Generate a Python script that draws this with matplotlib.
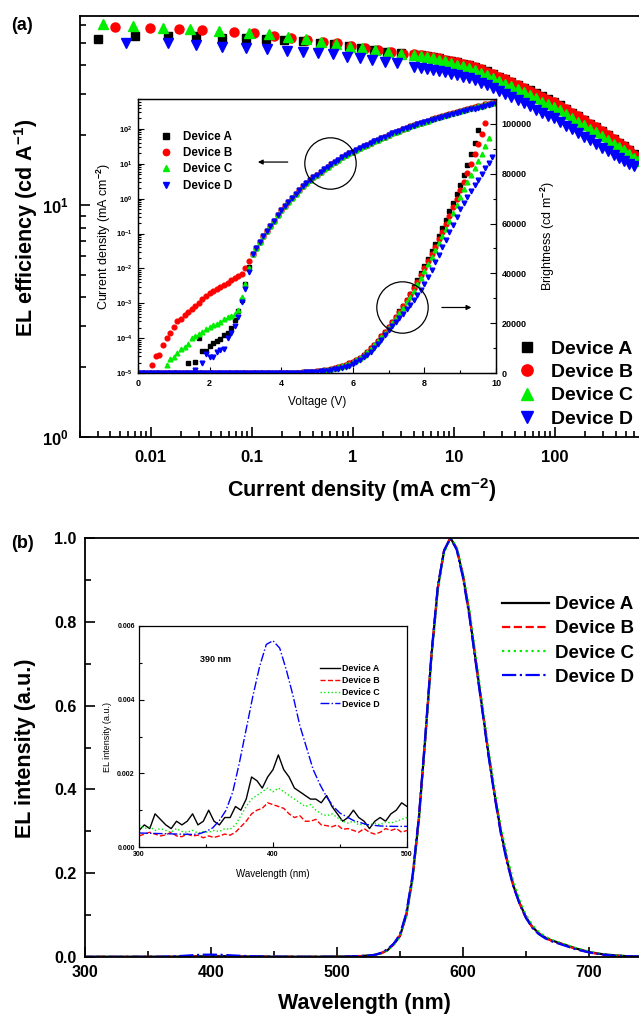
import numpy as np
import matplotlib
matplotlib.use("Agg")
import matplotlib.pyplot as plt
from matplotlib.ticker import FixedLocator, NullFormatter, FuncFormatter

plt.rcParams['font.family'] = ['Liberation Sans', 'DejaVu Sans']
plt.rcParams['font.weight'] = 'bold'
plt.rcParams['mathtext.fontset'] = 'custom'
plt.rcParams['mathtext.rm'] = 'Liberation Sans:bold'
plt.rcParams['mathtext.it'] = 'Liberation Sans:bold'
plt.rcParams['mathtext.bf'] = 'Liberation Sans:bold'
plt.rcParams['axes.linewidth'] = 1.3

devices = ['Device A', 'Device B', 'Device C', 'Device D']
colors = ['#000000', '#ff0000', '#00ee00', '#0000ff']
markers = ['s', 'o', '^', 'v']

# ---------------- (a) EL efficiency vs current density ----------------
# low current part, log10(J) and efficiency, per device
logj_low_a = [-2.52, -2.15, -1.83, -1.55, -1.29, -1.06, -0.86, -0.68, -0.49, -0.32, -0.19, -0.04, 0.08, 0.21, 0.34, 0.48]
eff_low_a = [52.0, 53.5, 53.5, 53.5, 52.5, 52.5, 52.0, 51.4, 50.9, 49.9, 49.4, 48.4, 47.5, 46.5, 45.6, 45.2]
logj_low_b = [-2.35, -2.01, -1.72, -1.49, -1.18, -0.98, -0.78, -0.61, -0.45, -0.29, -0.16, -0.02, 0.12, 0.25, 0.38, 0.50]
eff_low_b = [58.5, 58.0, 57.4, 56.8, 55.7, 55.1, 53.5, 52.5, 51.4, 50.4, 49.9, 48.4, 47.3, 46.4, 45.6, 45.0]
logj_low_c = [-2.47, -2.17, -1.88, -1.61, -1.32, -1.03, -0.83, -0.64, -0.46, -0.31, -0.17, -0.03, 0.09, 0.22, 0.35, 0.48]
eff_low_c = [60.3, 59.1, 58.0, 57.4, 56.2, 55.1, 54.6, 53.0, 52.0, 50.6, 49.4, 48.0, 47.5, 46.4, 45.5, 45.0]
logj_low_d = [-2.24, -1.83, -1.55, -1.29, -1.06, -0.85, -0.65, -0.49, -0.34, -0.20, -0.06, 0.07, 0.19, 0.32, 0.44]
eff_low_d = [49.9, 49.9, 48.9, 48.0, 47.5, 47.0, 46.1, 45.6, 45.2, 44.7, 43.4, 43.0, 42.2, 41.3, 40.9]

# high current part (shared current grid, log10 J)
logj_high = [0.61, 0.67, 0.73, 0.79, 0.85, 0.91, 0.97, 1.03, 1.09, 1.15, 1.21, 1.27, 1.33, 1.39, 1.45,
             1.51, 1.57, 1.63, 1.69, 1.75, 1.81, 1.87, 1.93, 1.99, 2.05, 2.11, 2.17, 2.23, 2.29, 2.35,
             2.41, 2.47, 2.53, 2.58, 2.63, 2.68, 2.73, 2.78, 2.82]
eff_high_a = [44.5, 44.2, 43.8, 43.4, 42.9, 42.4, 41.8, 41.2, 40.6, 40.1, 39.4, 38.5, 37.7, 36.7, 35.8,
              34.9, 34.0, 33.0, 32.1, 31.2, 30.3, 29.4, 28.6, 27.8, 26.9, 25.9, 25.0, 24.1, 23.2, 22.4,
              21.6, 20.8, 20.0, 19.3, 18.6, 17.9, 17.3, 16.6, 16.1]
eff_high_b = [44.6, 44.2, 43.8, 43.4, 42.9, 42.4, 41.8, 41.2, 40.6, 40.0, 39.3, 38.5, 37.6, 36.7, 35.8,
              34.9, 33.9, 33.0, 32.1, 31.1, 30.2, 29.3, 28.5, 27.7, 26.8, 25.9, 25.0, 24.1, 23.2, 22.4,
              21.6, 20.8, 20.0, 19.3, 18.6, 17.9, 17.2, 16.5, 16.0]
eff_high_c = [44.3, 43.9, 43.4, 42.9, 42.3, 41.7, 41.0, 40.3, 39.6, 38.9, 38.1, 37.2, 36.3, 35.3, 34.4,
              33.4, 32.5, 31.5, 30.6, 29.7, 28.8, 27.9, 27.2, 26.4, 25.6, 24.6, 23.8, 22.9, 22.1, 21.3,
              20.6, 19.8, 19.1, 18.4, 17.8, 17.2, 16.6, 16.0, 15.5]
eff_high_d = [39.5, 39.1, 38.7, 38.3, 37.8, 37.3, 36.8, 36.2, 35.7, 35.2, 34.5, 33.7, 32.9, 32.0, 31.1,
              30.2, 29.3, 28.4, 27.5, 26.6, 25.8, 25.0, 24.3, 23.7, 22.9, 22.0, 21.2, 20.4, 19.7, 19.0,
              18.3, 17.7, 17.1, 16.5, 16.0, 15.5, 15.1, 14.8]

# ---------------- (a) inset: J-V and L-V ----------------
# log10 J (mA cm-2) at low voltage, per device: voltages and values
v_low_a = [1.4, 1.6, 1.7, 1.8, 1.9, 2.0, 2.1, 2.2, 2.3, 2.4, 2.5, 2.6, 2.7, 2.8, 2.9, 3.0, 3.1]
lj_low_a = [-4.71, -4.69, -4.00, -4.38, -4.36, -4.22, -4.15, -4.07, -4.03, -3.92, -3.85, -3.70, -3.48, -3.21, -2.92, -2.45, -1.95]
v_low_b = [0.4, 0.5, 0.6, 0.7, 0.8, 0.9, 1.0, 1.1, 1.2, 1.3, 1.4, 1.5, 1.6, 1.7, 1.8, 1.9, 2.0,
           2.1, 2.2, 2.3, 2.4, 2.5, 2.6, 2.7, 2.8, 2.9, 3.0, 3.1]
lj_low_b = [-4.78, -4.51, -4.47, -4.21, -4.00, -3.85, -3.69, -3.51, -3.45, -3.35, -3.26, -3.16, -3.07,
            -2.98, -2.88, -2.80, -2.72, -2.66, -2.60, -2.54, -2.49, -2.41, -2.33, -2.28, -2.22, -2.15, -2.00, -1.80]
v_low_c = [0.8, 0.9, 1.0, 1.1, 1.2, 1.3, 1.4, 1.5, 1.6, 1.7, 1.8, 1.9, 2.0, 2.1, 2.2, 2.3, 2.4, 2.5,
           2.6, 2.7, 2.8, 2.9, 3.0, 3.1]
lj_low_c = [-4.78, -4.60, -4.54, -4.42, -4.30, -4.26, -4.16, -4.00, -3.95, -3.88, -3.83, -3.75, -3.68,
            -3.63, -3.59, -3.53, -3.46, -3.40, -3.36, -3.30, -3.20, -2.83, -2.45, -2.00]
v_low_d = [1.6, 1.8, 1.9, 2.0, 2.1, 2.2, 2.3, 2.4, 2.5, 2.6, 2.7, 2.8, 2.9, 3.0, 3.1]
lj_low_d = [-4.92, -4.71, -4.45, -4.54, -4.55, -4.40, -4.33, -4.30, -4.00, -3.85, -3.65, -3.40, -2.97, -2.60, -2.10]

# common J-V branch above 3.2 V
v_high = [3.2, 3.3, 3.4, 3.5, 3.6, 3.7, 3.8, 3.9, 4.0, 4.1, 4.2, 4.3, 4.4, 4.5, 4.6, 4.7, 4.8, 4.9,
          5.0, 5.1, 5.2, 5.3, 5.4, 5.5, 5.6, 5.7, 5.8, 5.9, 6.0, 6.1, 6.2, 6.3, 6.4, 6.5, 6.6, 6.7,
          6.8, 6.9, 7.0, 7.1, 7.2, 7.3, 7.4, 7.5, 7.6, 7.7, 7.8, 7.9, 8.0, 8.1, 8.2, 8.3, 8.4, 8.5,
          8.6, 8.7, 8.8, 8.9, 9.0, 9.1, 9.2, 9.3, 9.4, 9.5, 9.6, 9.7, 9.8, 9.9, 10.0]
lj_high = [-1.60, -1.42, -1.24, -1.08, -0.92, -0.78, -0.63, -0.48, -0.34, -0.21, -0.09, 0.03, 0.14,
           0.25, 0.35, 0.44, 0.53, 0.61, 0.69, 0.77, 0.85, 0.92, 0.99, 1.06, 1.12, 1.18, 1.24, 1.30,
           1.35, 1.40, 1.45, 1.50, 1.55, 1.60, 1.65, 1.69, 1.74, 1.78, 1.83, 1.87, 1.91, 1.95, 1.99,
           2.03, 2.07, 2.10, 2.14, 2.18, 2.21, 2.24, 2.28, 2.31, 2.34, 2.37, 2.40, 2.43, 2.46, 2.49,
           2.52, 2.54, 2.57, 2.60, 2.62, 2.65, 2.67, 2.70, 2.72, 2.75, 2.77]
lj_high_d_shift = -0.05  # device D sits slightly lower at high bias

# brightness (cd m-2) vs voltage, sweep from 0 V in 0.1 V steps
volt = [round(0.1 * k, 1) for k in range(101)]
lum_off = [0.0] * 40  # 0.0 - 3.9 V : no emission
lum_a = lum_off + [0, 20, 50, 80, 120, 170, 240, 320, 420, 540, 680, 850, 1050, 1280, 1550, 1900,
                   2300, 2750, 3250, 3850, 4500, 5300, 6200, 7300, 8500, 9900, 11400, 13000, 14700,
                   16500, 18400, 20400, 22500, 24700, 27000, 29400, 31900, 34500, 37200, 40000,
                   42900, 45800, 48800, 51900, 55000, 58200, 61500, 64900, 68300, 71800, 75400,
                   79300, 83400, 87800, 92500, 97500]
lum_b = lum_off + [0, 20, 50, 80, 120, 170, 240, 320, 420, 540, 680, 850, 1050, 1280, 1550, 1900,
                   2300, 2750, 3250, 3850, 4500, 5300, 6200, 7300, 8500, 9900, 11400, 13000, 14700,
                   16500, 18400, 20300, 22400, 24600, 26800, 29200, 31600, 34100, 36700, 39400,
                   42100, 44900, 47800, 50700, 53700, 56800, 60000, 63200, 66500, 69900, 73300,
                   76800, 80400, 84100, 87900, 91800, 96000, 100500]
lum_c = lum_off + [0, 20, 45, 75, 115, 165, 230, 310, 410, 525, 660, 825, 1020, 1240, 1500, 1840,
                   2230, 2670, 3150, 3730, 4400, 5150, 6050, 7100, 8300, 9650, 11100, 12700, 14300,
                   16100, 18000, 19900, 21900, 24000, 26200, 28400, 30700, 33100, 35600, 38200,
                   40900, 43600, 46400, 49200, 52100, 55000, 58000, 61100, 64200, 67400, 70600,
                   73700, 76600, 79500, 82300, 85100, 87900, 91000, 94500]
lum_d = lum_off + [0, 10, 30, 50, 80, 120, 170, 230, 300, 390, 500, 630, 790, 970, 1180, 1420,
                   1700, 2050, 2500, 3000, 3600, 4400, 5300, 6300, 7400, 8600, 10000, 11600, 13400,
                   15300, 17400, 18900, 20400, 22000, 23700, 25500, 27400, 29400, 31400, 33500,
                   35600, 38500, 41500, 44500, 47500, 50500, 53500, 56600, 59600, 62700, 65800,
                   68200, 70600, 73000, 75300, 77500, 79800, 82100, 84400, 86600]

# ---------------- (b) EL spectra ----------------
wl_uv = [300, 304, 308, 312, 316, 320, 324, 328, 332, 336, 340, 344, 348, 352, 356, 360, 364, 368,
         372, 376, 380, 384, 388, 392, 396, 400, 404, 408, 412, 416, 420, 424, 428, 432, 436, 440,
         444, 448, 452, 456, 460, 464, 468, 472, 476, 480, 484, 488, 492, 496, 500]
uv_a = [0.00045, 0.0006, 0.0005, 0.0009, 0.00075, 0.0006, 0.0005, 0.0007, 0.0006, 0.0007, 0.0009,
        0.0006, 0.0007, 0.0010, 0.0007, 0.0006, 0.0008, 0.0008, 0.0011, 0.0010, 0.0013, 0.0019,
        0.0018, 0.0016, 0.0019, 0.0021, 0.0025, 0.0021, 0.0019, 0.0016, 0.0015, 0.0014, 0.0013,
        0.0013, 0.0012, 0.0014, 0.0011, 0.0009, 0.0007, 0.0008, 0.0010, 0.0008, 0.0007, 0.0005,
        0.0007, 0.0008, 0.0007, 0.0009, 0.0010, 0.0012, 0.0011]
uv_b = [0.0003, 0.00035, 0.0004, 0.00035, 0.0003, 0.00033, 0.0004, 0.0003, 0.00028, 0.00035, 0.0003,
        0.00032, 0.00025, 0.0003, 0.00026, 0.0003, 0.00035, 0.00032, 0.0004, 0.00055, 0.0007, 0.0009,
        0.0010, 0.00105, 0.0012, 0.00115, 0.0011, 0.00105, 0.0009, 0.0008, 0.00085, 0.0007, 0.0007,
        0.00075, 0.0006, 0.00058, 0.00055, 0.0006, 0.00048, 0.0005, 0.00045, 0.0004, 0.0005, 0.0004,
        0.00035, 0.0004, 0.0005, 0.00045, 0.0005, 0.0004, 0.00045]
uv_c = [0.0006, 0.0005, 0.00055, 0.00045, 0.0005, 0.00045, 0.0004, 0.0005, 0.00042, 0.0004, 0.00045,
        0.00038, 0.00042, 0.0004, 0.00045, 0.00042, 0.0005, 0.00048, 0.0006, 0.00085, 0.0011, 0.0013,
        0.0014, 0.0015, 0.0016, 0.0015, 0.0016, 0.0015, 0.0014, 0.0013, 0.0012, 0.0011, 0.00115,
        0.0010, 0.0009, 0.00085, 0.0009, 0.0008, 0.0007, 0.00065, 0.0007, 0.0006, 0.00062, 0.0006,
        0.00065, 0.0006, 0.00068, 0.00065, 0.0007, 0.00075, 0.0008]
wl_uv_d = [300, 310, 320, 330, 340, 345, 350, 355, 360, 365, 370, 375, 380, 385, 390, 395, 400, 405,
           410, 415, 420, 425, 430, 435, 440, 445, 450, 460, 470, 480, 490, 500]
uv_d = [0.00038, 0.00037, 0.00036, 0.00035, 0.00034, 0.00036, 0.00042, 0.00052, 0.00072, 0.0010,
        0.0015, 0.0023, 0.0032, 0.0041, 0.0049, 0.0055, 0.0056, 0.0054, 0.0048, 0.0041, 0.0033,
        0.0027, 0.0021, 0.0017, 0.00136, 0.0011, 0.00092, 0.00072, 0.00061, 0.00057, 0.00056, 0.00056]

wl_vis = [510, 520, 530, 535, 540, 545, 550, 555, 560, 565, 570, 575, 580, 585, 590, 595, 600, 605,
          610, 615, 620, 625, 630, 635, 640, 645, 650, 655, 660, 665, 670, 675, 680, 685, 690, 700,
          710, 720, 730, 740, 760, 800]
vis_a = [0.0015, 0.0025, 0.005, 0.009, 0.016, 0.03, 0.05, 0.10, 0.19, 0.33, 0.52, 0.72, 0.88, 0.97,
         1.0, 0.975, 0.91, 0.82, 0.71, 0.60, 0.49, 0.39, 0.30, 0.23, 0.17, 0.128, 0.095, 0.072, 0.057,
         0.047, 0.040, 0.035, 0.030, 0.025, 0.020, 0.012, 0.007, 0.004, 0.002, 0.001, 0.0, 0.0]
vis_b = [0.0012, 0.0022, 0.005, 0.009, 0.017, 0.031, 0.052, 0.10, 0.19, 0.33, 0.52, 0.72, 0.88, 0.97,
         1.0, 0.975, 0.91, 0.82, 0.71, 0.60, 0.49, 0.39, 0.30, 0.23, 0.17, 0.127, 0.094, 0.071, 0.056,
         0.046, 0.039, 0.034, 0.029, 0.024, 0.019, 0.011, 0.006, 0.003, 0.002, 0.001, 0.0, 0.0]
vis_c = [0.0014, 0.0024, 0.005, 0.009, 0.016, 0.029, 0.049, 0.098, 0.185, 0.325, 0.515, 0.715, 0.875,
         0.965, 1.0, 0.98, 0.915, 0.83, 0.72, 0.61, 0.50, 0.40, 0.31, 0.24, 0.18, 0.134, 0.10, 0.076,
         0.06, 0.049, 0.041, 0.036, 0.031, 0.026, 0.021, 0.013, 0.007, 0.004, 0.002, 0.001, 0.0, 0.0]
vis_d = [0.0013, 0.0023, 0.005, 0.01, 0.018, 0.032, 0.054, 0.105, 0.195, 0.335, 0.525, 0.725, 0.885,
         0.97, 1.0, 0.972, 0.905, 0.815, 0.705, 0.595, 0.485, 0.385, 0.295, 0.225, 0.168, 0.126,
         0.093, 0.07, 0.055, 0.045, 0.038, 0.033, 0.028, 0.023, 0.018, 0.011, 0.006, 0.003, 0.002,
         0.001, 0.0, 0.0]

# ================= drawing =================
W, H = 639, 1019
fig = plt.figure(figsize=(W / 100, H / 100), dpi=100)


def px_axes(left, top, right, bottom):
    return fig.add_axes([left / W, 1 - bottom / H, (right - left) / W, (bottom - top) / H])


def bold_pow(v, pos):
    return r'$10^{%d}$' % int(round(np.log10(v)))


# ---- panel (a)
ax1 = px_axes(80, 16, 656, 437)
ax1.set_xscale('log')
ax1.set_yscale('log')
low_sets = [(logj_low_a, eff_low_a, eff_high_a), (logj_low_b, eff_low_b, eff_high_b),
            (logj_low_c, eff_low_c, eff_high_c), (logj_low_d, eff_low_d, eff_high_d)]
for (lj, ef, efh), c, m, name in zip(low_sets, colors, markers, devices):
    j = np.power(10.0, np.array(lj + logj_high[:len(efh)]))
    e = np.array(ef + efh)
    ax1.plot(j, e, m, color=c, ms=6.5 if m != 's' else 5.8, mec=c, ls='none', label=name)
ax1.set_xlim(0.002, 1000)
ax1.set_ylim(1, 65.3)
ax1.xaxis.set_major_locator(FixedLocator([0.01, 0.1, 1, 10, 100]))
ax1.xaxis.set_major_formatter(FuncFormatter(lambda v, p: '%g' % v))
ax1.xaxis.set_minor_locator(FixedLocator([k * 10.0 ** d for d in range(-3, 3) for k in range(2, 10)]))
ax1.xaxis.set_minor_formatter(NullFormatter())
ax1.yaxis.set_major_locator(FixedLocator([1, 10]))
ax1.yaxis.set_major_formatter(FuncFormatter(bold_pow))
ax1.yaxis.set_minor_locator(FixedLocator([k * 10.0 ** d for d in range(0, 2) for k in range(2, 10)]))
ax1.yaxis.set_minor_formatter(NullFormatter())
ax1.tick_params(which='both', direction='in', width=1.2, labelsize=12)
ax1.tick_params(which='major', length=7, pad=8)
ax1.tick_params(which='minor', length=4)
ax1.tick_params(axis='x', which='major', pad=9)
leg1 = ax1.legend(loc='upper left', bbox_to_anchor=(517 / W, 1 - 340 / H), bbox_transform=fig.transFigure,
                  frameon=False, fontsize=14, handlelength=1.0, handletextpad=0.75, labelspacing=0.3,
                  borderpad=0, borderaxespad=0, markerscale=1.25)
fig.text(22 / W, 1 - 26 / H, '(a)', fontsize=13, ha='center', va='center')
fig.text(26 / W, 1 - 228 / H, r'EL efficiency (cd A$^{-1}$)', rotation=90, fontsize=15.5,
         ha='center', va='center')
fig.text(362 / W, 1 - 490 / H, r'Current density (mA cm$^{-2}$)', fontsize=15.5, ha='center', va='center')

# ---- inset of (a)
ax2 = px_axes(138, 99, 496, 373)
ax2.set_yscale('log')
jv_sets = [(v_low_a, lj_low_a, 0.0), (v_low_b, lj_low_b, 0.0), (v_low_c, lj_low_c, 0.0),
           (v_low_d, lj_low_d, lj_high_d_shift)]
for (vl, ljl, sh), c, m, name in zip(jv_sets, colors, markers, devices):
    lj_tail = [x + sh * max(0.0, (v - 7.0) / 3.0) for v, x in zip(v_high, lj_high)]
    vv = np.array(vl + v_high)
    jj = np.power(10.0, np.array(ljl + lj_tail))
    ax2.plot(vv, jj, m, color=c, mec=c, ms=3.4 if m != 's' else 3.0, ls='none', label=name)
ax2.set_xlim(0, 10)
ax2.set_ylim(1e-5, 7.2e2)
ax2.xaxis.set_major_locator(FixedLocator([0, 2, 4, 6, 8, 10]))
ax2.xaxis.set_minor_locator(FixedLocator([1, 3, 5, 7, 9]))
ax2.yaxis.set_major_locator(FixedLocator([10.0 ** k for k in range(-5, 3)]))
ax2.yaxis.set_major_formatter(FuncFormatter(bold_pow))
ax2.yaxis.set_minor_locator(FixedLocator([k * 10.0 ** d for d in range(-5, 3) for k in range(2, 10)]))
ax2.yaxis.set_minor_formatter(NullFormatter())
ax2.tick_params(which='both', direction='in', width=0.8, labelsize=6.5, top=False, right=False)
ax2.tick_params(which='major', length=4, pad=4)
ax2.tick_params(which='minor', length=2)
ax2.tick_params(axis='y', labelsize=5.5)
for s in ax2.spines.values():
    s.set_linewidth(0.9)
ax2.set_xlabel('Voltage (V)', fontsize=8.5, labelpad=6)
ax2.set_ylabel(r'Current density (mA cm$^{-2}$)', fontsize=9, labelpad=2)

ax2r = ax2.twinx()
lum_sets = [lum_a, lum_b, lum_c, lum_d]
for lum, c, m in zip(lum_sets, colors, markers):
    ax2r.plot(volt[:len(lum)], lum, m, color=c, mec=c, ms=3.4 if m != 's' else 3.0, ls='none')
ax2r.set_ylim(0, 110000)
ax2r.yaxis.set_major_locator(FixedLocator([0, 20000, 40000, 60000, 80000, 100000]))
ax2r.yaxis.set_minor_locator(FixedLocator([10000, 30000, 50000, 70000, 90000]))
ax2r.tick_params(which='both', direction='in', width=0.8, labelsize=6.5)
ax2r.tick_params(which='major', length=4, pad=4)
ax2r.tick_params(which='minor', length=2)
ax2r.set_ylabel(r'Brightness (cd m$^{-2}$)', fontsize=9, labelpad=5)
for s in ax2r.spines.values():
    s.set_linewidth(0.9)

ax2.legend(loc='upper left', bbox_to_anchor=(161 / W, 1 - 131 / H), bbox_transform=fig.transFigure,
           frameon=False, fontsize=8.4, handlelength=0.8, handletextpad=1.1, labelspacing=0.36,
           borderpad=0, borderaxespad=0, markerscale=1.35)

# circles and arrows marking the axis each curve belongs to
ax2.plot([5.36], [10.5], 'o', ms=37, mfc='none', mec='k', mew=0.9)
ax2.annotate('', xy=(3.27, 11.2), xytext=(4.26, 11.2),
             arrowprops=dict(arrowstyle='-|>', color='k', lw=0.9, mutation_scale=7))
ax2r.plot([7.37], [26300], 'o', ms=37, mfc='none', mec='k', mew=0.9)
ax2r.annotate('', xy=(9.39, 26300), xytext=(8.41, 26300),
              arrowprops=dict(arrowstyle='-|>', color='k', lw=0.9, mutation_scale=7))

# ---- panel (b)
ax3 = px_axes(85, 538, 715, 957)
styles = ['-', '--', ':', '-.']
spec_sets = [(wl_uv, uv_a, vis_a), (wl_uv, uv_b, vis_b), (wl_uv, uv_c, vis_c), (wl_uv_d, uv_d, vis_d)]
for (wu, su, sv), c, ls, name in zip(spec_sets, colors, styles, devices):
    ax3.plot(wu + wl_vis, su + sv, ls, color=c, lw=1.6, label=name)
ax3.set_xlim(300, 800)
ax3.set_ylim(0, 1.0)
ax3.xaxis.set_major_locator(FixedLocator([300, 400, 500, 600, 700]))
ax3.xaxis.set_minor_locator(FixedLocator([350, 450, 550, 650, 750]))
ax3.yaxis.set_major_locator(FixedLocator([0.0, 0.2, 0.4, 0.6, 0.8, 1.0]))
ax3.yaxis.set_minor_locator(FixedLocator([0.1, 0.3, 0.5, 0.7, 0.9]))
ax3.yaxis.set_major_formatter(FuncFormatter(lambda v, p: '%.1f' % v))
ax3.tick_params(which='both', direction='in', width=1.2, labelsize=11.5)
ax3.tick_params(which='major', length=7, pad=6)
ax3.tick_params(which='minor', length=4)
ax3.legend(loc='upper left', bbox_to_anchor=(502 / W, 1 - 596 / H), bbox_transform=fig.transFigure,
           frameon=False, fontsize=13.5, handlelength=2.5, handletextpad=0.35, labelspacing=0.38,
           borderpad=0, borderaxespad=0)
fig.text(22 / W, 1 - 544 / H, '(b)', fontsize=13, ha='center', va='center')
fig.text(26 / W, 1 - 748 / H, 'EL intensity (a.u.)', rotation=90, fontsize=15.5, ha='center', va='center')
fig.text(364 / W, 1 - 1004 / H, 'Wavelength (nm)', fontsize=15.5, ha='center', va='center')

# ---- inset of (b)
ax4 = px_axes(139, 626, 407, 847)
for (wu, su, sv), c, ls, name in zip(spec_sets, colors, styles, devices):
    ax4.plot(wu, su, ls, color=c, lw=1.0, label=name)
ax4.set_xlim(300, 500)
ax4.set_ylim(0, 0.006)
ax4.xaxis.set_major_locator(FixedLocator([300, 400, 500]))
ax4.xaxis.set_minor_locator(FixedLocator([350, 450]))
ax4.yaxis.set_major_locator(FixedLocator([0.0, 0.002, 0.004, 0.006]))
ax4.yaxis.set_minor_locator(FixedLocator([0.001, 0.003, 0.005]))
ax4.yaxis.set_major_formatter(FuncFormatter(lambda v, p: '%.3f' % v))
ax4.tick_params(which='both', direction='in', width=0.8, labelsize=5)
ax4.tick_params(which='major', length=3.5, pad=3)
ax4.tick_params(which='minor', length=2)
for s in ax4.spines.values():
    s.set_linewidth(0.9)
ax4.set_xlabel('Wavelength (nm)', fontsize=7, labelpad=8)
ax4.set_ylabel('EL intensity (a.u.)', fontsize=6.5, labelpad=4)
ax4.text(0.287, 0.85, '390 nm', transform=ax4.transAxes, fontsize=6.5, ha='center', va='center')
ax4.legend(loc='upper left', bbox_to_anchor=(320 / W, 1 - 664 / H), bbox_transform=fig.transFigure,
           frameon=False, fontsize=6.4, handlelength=2.2, handletextpad=0.3, labelspacing=0.32,
           borderpad=0, borderaxespad=0)

fig.savefig('out.png', dpi=100)
